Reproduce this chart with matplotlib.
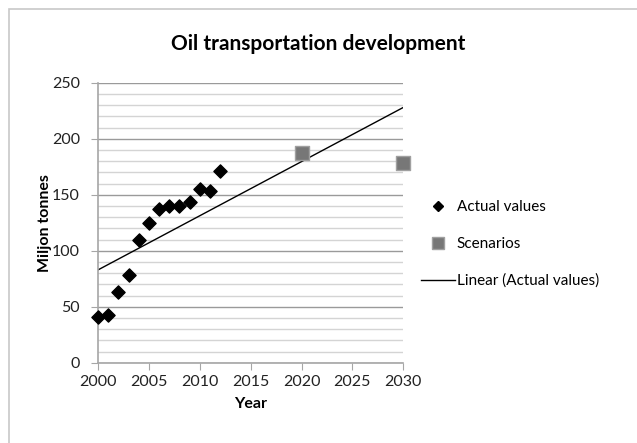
import matplotlib.pyplot as plt
from matplotlib.lines import Line2D
from matplotlib.patches import Rectangle

plt.rcParams['font.family'] = ['Lato', 'DejaVu Sans']

# data
years = [2000, 2001, 2002, 2003, 2004, 2005, 2006, 2007, 2008, 2009, 2010, 2011, 2012]
actual = [41, 43, 63, 78, 110, 125, 137, 140, 140, 144, 155, 153, 171]
scen_years = [2020, 2030]
scenarios = [187, 178]
trend_years = [2000, 2030]
trend_values = [83, 228]

fig = plt.figure(figsize=(6.37, 4.43), dpi=100)
ax = fig.add_axes([0.154, 0.181, 0.479, 0.632])

# outer chart border
fig.patches.append(Rectangle((9 / 637, -0.01), 1.0, 1 - 9 / 443 + 0.01,
                             transform=fig.transFigure, fill=False,
                             edgecolor='#c8c8c8', linewidth=1.2))

ax.plot(trend_years, trend_values, color='black', linewidth=1.0, zorder=2)
ax.scatter(years, actual, marker='D', s=45, color='black', zorder=3, clip_on=False)
ax.scatter(scen_years, scenarios, marker='s', s=110, color='#777777',
           edgecolors='#a0a0a0', linewidths=1, zorder=3, clip_on=False)

ax.set_xlim(2000, 2030)
ax.set_ylim(0, 250)
ax.set_xticks(range(2000, 2031, 5))
ax.set_yticks(range(0, 251, 50))
ax.set_yticks(range(0, 251, 10), minor=True)
ax.grid(True, which='major', axis='y', color='#9a9a9a', linewidth=1.0, zorder=0)
ax.grid(True, which='minor', axis='y', color='#d4d4d4', linewidth=1.0, zorder=0)
ax.set_axisbelow(True)

for s in ['top', 'right']:
    ax.spines[s].set_visible(False)
for s in ['left', 'bottom']:
    ax.spines[s].set_color('#a6a6a6')
    ax.spines[s].set_linewidth(1.2)
ax.tick_params(axis='both', which='major', length=5, color='#a6a6a6',
               labelsize=11.5, labelcolor='#222222')
ax.tick_params(axis='y', which='major', pad=8)
ax.tick_params(axis='y', which='minor', length=0)

ax.set_xlabel('Year', fontsize=11.5, fontweight='bold', labelpad=6)
ax.set_ylabel('Miljon tonnes', fontsize=11.5, fontweight='bold', labelpad=0)
fig.text(0.5, 0.9, 'Oil transportation development', ha='center', va='center',
         fontsize=15, fontweight='bold')

handles = [
    Line2D([], [], marker='D', linestyle='none', color='black', markersize=5),
    Line2D([], [], marker='s', linestyle='none', color='#777777',
           markeredgecolor='#a0a0a0', markersize=8),
    Line2D([], [], color='black', linewidth=1.0),
]
labels = ['Actual values', 'Scenarios', 'Linear (Actual values)']
fig.legend(handles, labels, loc='center left', bbox_to_anchor=(0.64, 0.449),
           frameon=False, fontsize=11, labelspacing=1.5, handlelength=2.2,
           handletextpad=0.1)

fig.savefig('out.png', dpi=100)
